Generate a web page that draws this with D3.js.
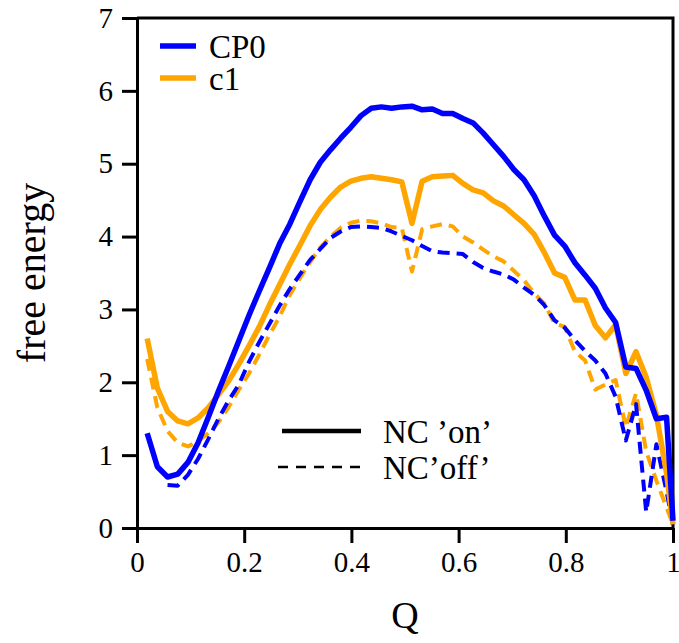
<html lang="en">
  <head>
    <meta charset="UTF-8" />
    <title>free energy vs Q</title>
    <script src="https://d3js.org/d3.v7.min.js"></script>
  </head>
  <style>
    body {
      margin: 0px;
      overflow: hidden;
      background: #fff;
    }
    text {
      font-family: "Liberation Serif", "DejaVu Serif", serif;
      fill: #000;
    }
  </style>
  <body>
    <svg width="679" height="643"></svg>
  </body>
  <footer>
    <script>
      // Q grid (bins) and free energy of each curve
      var qValues = [0.019, 0.038, 0.057, 0.076, 0.095, 0.114, 0.133, 0.152, 0.171, 0.19,
        0.209, 0.228, 0.247, 0.266, 0.285, 0.304, 0.323, 0.342, 0.361, 0.38,
        0.399, 0.418, 0.437, 0.456, 0.475, 0.494, 0.513, 0.532, 0.551, 0.57,
        0.589, 0.608, 0.627, 0.646, 0.665, 0.684, 0.703, 0.722, 0.741, 0.76,
        0.779, 0.798, 0.817, 0.836, 0.855, 0.874, 0.893, 0.912, 0.931, 0.95,
        0.969, 0.988, 1.0];

      // CP0, NC 'on'
      var cp0On = [1.30, 0.84, 0.70, 0.74, 0.90, 1.17, 1.52, 1.88, 2.22, 2.57,
        2.92, 3.25, 3.57, 3.90, 4.17, 4.48, 4.78, 5.02, 5.19, 5.35,
        5.50, 5.66, 5.76, 5.78, 5.76, 5.78, 5.79, 5.74, 5.75, 5.69,
        5.69, 5.62, 5.56, 5.42, 5.26, 5.10, 4.92, 4.78, 4.56, 4.28,
        4.02, 3.87, 3.64, 3.47, 3.29, 3.02, 2.82, 2.21, 2.19, 1.89,
        1.50, 1.52, 0.10];

      // c1, NC 'on'
      var c1On = [2.60, 1.92, 1.60, 1.47, 1.43, 1.51, 1.65, 1.83, 2.02, 2.25,
        2.50, 2.76, 3.06, 3.34, 3.62, 3.88, 4.15, 4.37, 4.54, 4.68,
        4.76, 4.80, 4.82, 4.80, 4.78, 4.75, 4.18, 4.76, 4.82, 4.83,
        4.84, 4.73, 4.64, 4.60, 4.49, 4.42, 4.30, 4.18, 4.03, 3.78,
        3.50, 3.44, 3.13, 3.13, 2.78, 2.61, 2.79, 2.12, 2.42, 2.07,
        1.55, 0.75, 0.05];

      // CP0, NC 'off'
      var cp0Off = [null, null, 0.59, 0.58, 0.73, 0.95, 1.22, 1.50, 1.75, 1.97,
        2.28, 2.55, 2.80, 3.05, 3.28, 3.48, 3.68, 3.83, 3.98, 4.07,
        4.13, 4.14, 4.13, 4.12, 4.07, 4.01, 3.95, 3.87, 3.80, 3.78,
        3.77, 3.76, 3.65, 3.57, 3.52, 3.48, 3.41, 3.30, 3.20, 3.06,
        2.85, 2.75, 2.58, 2.43, 2.30, 2.12, 1.80, 1.20, 1.70, 0.22,
        1.15, 0.50, 0.05];

      // c1, NC 'off'
      var c1Off = [2.32, 1.65, 1.33, 1.17, 1.12, 1.19, 1.30, 1.45, 1.66, 1.90,
        2.12, 2.38, 2.65, 2.90, 3.20, 3.43, 3.65, 3.85, 4.00, 4.12,
        4.19, 4.22, 4.21, 4.18, 4.13, 4.12, 3.52, 4.10, 4.14, 4.17,
        4.14, 4.00, 3.92, 3.82, 3.73, 3.66, 3.53, 3.40, 3.22, 3.08,
        2.81, 2.76, 2.42, 2.30, 1.90, 1.97, 2.03, 1.38, 1.85, 1.05,
        0.65, 0.28, 0.05];

      var xTicks = [0, 0.2, 0.4, 0.6, 0.8, 1];
      var xTickLabels = ["0", "0.2", "0.4", "0.6", "0.8", "1"];
      var yTicks = [0, 1, 2, 3, 4, 5, 6, 7];

      var seriesNames = ["CP0", "c1"];
      var seriesColors = ["#0000ff", "#ffa500"];
      var ncNames = ["NC \u2019on\u2019", "NC\u2019off\u2019"];

      var fontFamily = '"Liberation Serif", "DejaVu Serif", serif';

      var svg = d3.select("svg");
      var margin = { top: 18, right: 6, bottom: 115, left: 137 };
      var innerWidth = 679 - margin.left - margin.right;
      var innerHeight = 643 - margin.top - margin.bottom;

      var xScale = d3.scaleLinear().domain([0, 1]).range([0, innerWidth]);
      var yScale = d3.scaleLinear().domain([0, 7]).range([innerHeight, 0]);

      var g = svg
        .append("g")
        .attr("transform", `translate(${margin.left}, ${margin.top})`);

      // frame (top and right)
      g.append("path")
        .attr("d", `M0,0H${innerWidth}V${innerHeight}`)
        .attr("fill", "none")
        .attr("stroke", "#000")
        .attr("stroke-width", 3);

      var xAxis = g
        .append("g")
        .attr("transform", `translate(0, ${innerHeight})`)
        .call(
          d3
            .axisBottom(xScale)
            .tickValues(xTicks)
            .tickFormat(function (d, i) {
              return xTickLabels[i];
            })
            .tickSize(15)
            .tickSizeOuter(0)
            .tickPadding(8)
        );

      var yAxis = g.append("g").call(
        d3
          .axisLeft(yScale)
          .tickValues(yTicks)
          .tickFormat(d3.format("d"))
          .tickSize(15)
          .tickSizeOuter(0)
          .tickPadding(9)
      );

      [xAxis, yAxis].forEach(function (ax) {
        ax.attr("font-family", fontFamily).attr("font-size", 29);
        ax.selectAll("path, line").attr("stroke", "#000").attr("stroke-width", 3);
        ax.selectAll("text").attr("fill", "#000");
      });

      // axis titles
      svg.append("text")
        .attr("x", margin.left + innerWidth / 2)
        .attr("y", 628)
        .attr("text-anchor", "middle")
        .attr("font-family", fontFamily)
        .attr("font-size", 38)
        .text("Q");

      svg.append("text")
        .attr("transform", `translate(45, ${margin.top + innerHeight / 2}) rotate(-90)`)
        .attr("text-anchor", "middle")
        .attr("font-family", fontFamily)
        .attr("font-size", 40)
        .text("free energy");

      function makeLine(values) {
        return d3
          .line()
          .defined(function (d, i) {
            return values[i] !== null;
          })
          .x(function (d) {
            return xScale(d);
          })
          .y(function (d, i) {
            return yScale(values[i]);
          });
      }

      var curves = [
        { values: c1Off, color: seriesColors[1], dashed: true },
        { values: cp0Off, color: seriesColors[0], dashed: true },
        { values: c1On, color: seriesColors[1], dashed: false },
        { values: cp0On, color: seriesColors[0], dashed: false }
      ];

      curves.forEach(function (c) {
        g.append("path")
          .attr("d", makeLine(c.values)(qValues))
          .attr("fill", "none")
          .attr("stroke", c.color)
          .attr("stroke-width", c.dashed ? 4 : 5.5)
          .attr("stroke-dasharray", c.dashed ? "12,7" : null)
          .attr("stroke-linejoin", "round");
      });

      // colour legend, top left
      var legend = svg.append("g")
        .attr("font-family", fontFamily)
        .attr("font-size", 33);
      seriesNames.forEach(function (name, i) {
        var y = 46 + i * 32;
        legend.append("line")
          .attr("x1", 160).attr("x2", 196)
          .attr("y1", y).attr("y2", y)
          .attr("stroke", seriesColors[i])
          .attr("stroke-width", 5.5);
        legend.append("text")
          .attr("x", 209)
          .attr("y", y + 12)
          .text(name);
      });

      // line style legend
      legend.append("line")
        .attr("x1", 282).attr("x2", 361)
        .attr("y1", 431).attr("y2", 431)
        .attr("stroke", "#000")
        .attr("stroke-width", 4.5);
      legend.append("text")
        .attr("x", 383).attr("y", 443)
        .text(ncNames[0]);
      legend.append("line")
        .attr("x1", 278).attr("x2", 364)
        .attr("y1", 467).attr("y2", 467)
        .attr("stroke", "#000")
        .attr("stroke-width", 2.5)
        .attr("stroke-dasharray", "10,8");
      legend.append("text")
        .attr("x", 383).attr("y", 479)
        .text(ncNames[1]);
    </script>
  </footer>
</html>
